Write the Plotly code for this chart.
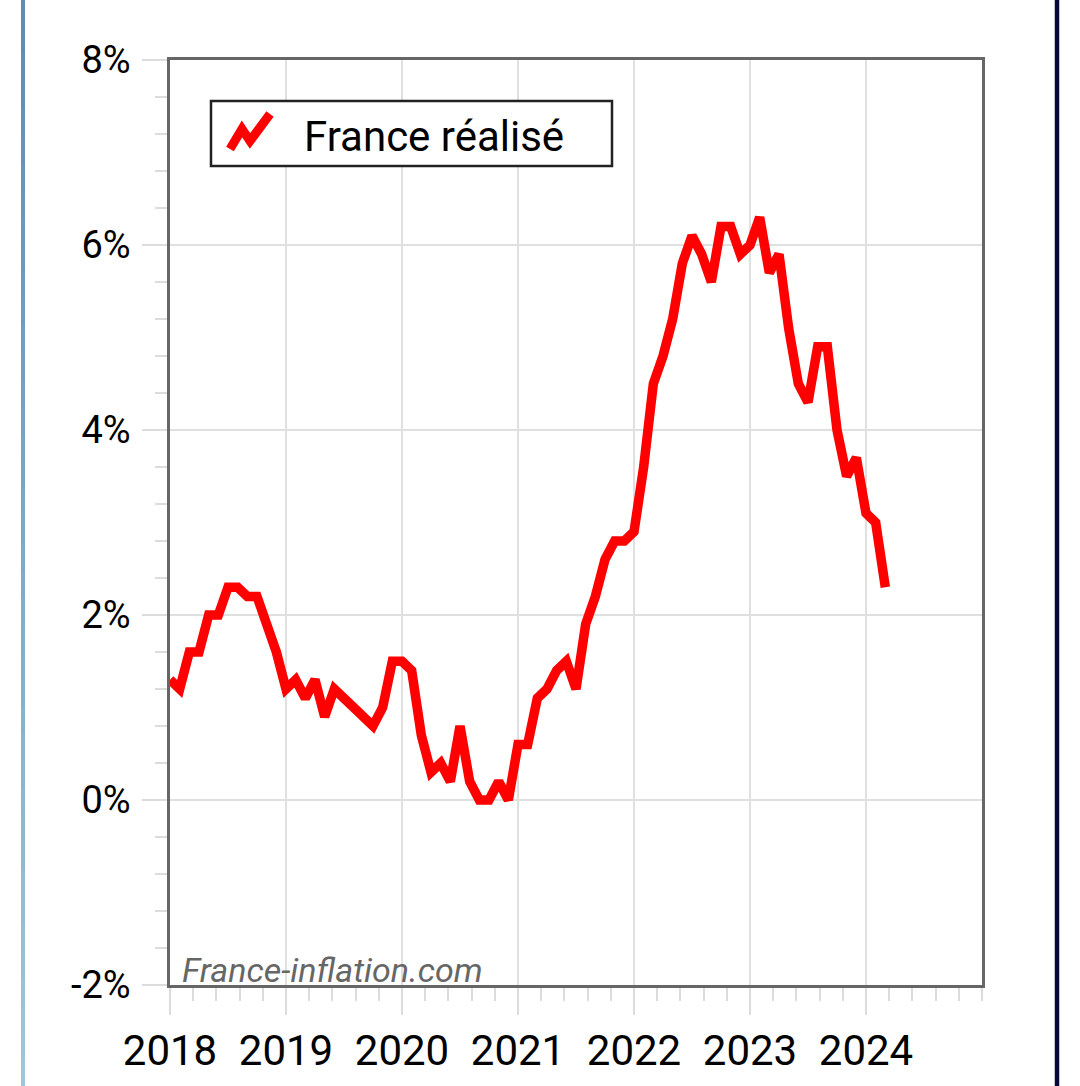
import plotly.graph_objects as go

# ---- data -------------------------------------------------------------
years = [2018]*12 + [2019]*12 + [2020]*12 + [2021]*12 + [2022]*12 + [2023]*12 + [2024]*3
months = list(range(1, 13))*6 + [1, 2, 3]
inflation = [
    1.3, 1.2, 1.6, 1.6, 2.0, 2.0, 2.3, 2.3, 2.2, 2.2, 1.9, 1.6,   # 2018
    1.2, 1.3, 1.1, 1.3, 0.9, 1.2, 1.1, 1.0, 0.9, 0.8, 1.0, 1.5,   # 2019
    1.5, 1.4, 0.7, 0.3, 0.4, 0.2, 0.8, 0.2, 0.0, 0.0, 0.2, 0.0,   # 2020
    0.6, 0.6, 1.1, 1.2, 1.4, 1.5, 1.2, 1.9, 2.2, 2.6, 2.8, 2.8,   # 2021
    2.9, 3.6, 4.5, 4.8, 5.2, 5.8, 6.1, 5.9, 5.6, 6.2, 6.2, 5.9,   # 2022
    6.0, 6.3, 5.7, 5.9, 5.1, 4.5, 4.3, 4.9, 4.9, 4.0, 3.5, 3.7,   # 2023
    3.1, 3.0, 2.3,                                                # 2024
]
series_name = "France réalisé"
x_tick_vals = [2018, 2019, 2020, 2021, 2022, 2023, 2024]
x_tick_text = ["2018", "2019", "2020", "2021", "2022", "2023", "2024"]
y_tick_vals = [-2, 0, 2, 4, 6, 8]
y_tick_text = ["-2%", "0%", "2%", "4%", "6%", "8%"]
watermark = "France-inflation.com"

# ---- layout geometry (pixels) -----------------------------------------
W, H = 1080, 1086
L, R, T, B = 170, 98, 60, 101
PW, PH = W - L - R, H - T - B

def px(xp):
    return (xp - L) / PW

def py(yp):
    return (H - B - yp) / PH

x_pos = [y + (m - 1) / 12 for y, m in zip(years, months)]

fig = go.Figure()
fig.add_trace(go.Scatter(
    x=x_pos, y=inflation, mode="lines", name=series_name,
    line=dict(color="#ff0000", width=9.5), showlegend=False,
))

FONT = "Roboto"
fig.update_layout(
    width=W, height=H,
    margin=dict(l=L, r=R, t=T, b=B, pad=0, autoexpand=False),
    paper_bgcolor="white", plot_bgcolor="white",
    font=dict(family=FONT, color="black"),
    xaxis=dict(
        range=[2018, 2025], tickmode="array", tickvals=x_tick_vals, ticktext=x_tick_text,
        tickfont=dict(size=42, family=FONT, color="black"),
        ticks="outside", ticklen=27, tickwidth=2, tickcolor="#dcdcdc",
        ticklabelstandoff=0,
        showgrid=True, gridcolor="#e0e0e0", gridwidth=2, zeroline=False,
        showline=True, linecolor="#666666", linewidth=2.5, mirror=True,
        minor=dict(tickmode="linear", tick0=2018, dtick=0.2, ticks="outside",
                   ticklen=13, tickwidth=2, tickcolor="#dcdcdc", showgrid=False),
    ),
    yaxis=dict(
        range=[-2, 8], tickmode="array", tickvals=y_tick_vals, ticktext=y_tick_text,
        tickfont=dict(size=38, family=FONT, color="black"),
        ticks="outside", ticklen=25, tickwidth=2, tickcolor="#dcdcdc",
        ticklabelstandoff=4,
        showgrid=True, gridcolor="#e0e0e0", gridwidth=2, zeroline=False,
        showline=True, linecolor="#666666", linewidth=2.5, mirror=True,
        minor=dict(tickmode="linear", tick0=-2, dtick=0.4, ticks="outside",
                   ticklen=12, tickwidth=2, tickcolor="#dcdcdc", showgrid=False),
    ),
)

shapes = []
# legend box
shapes.append(dict(type="rect", xref="paper", yref="paper",
                   x0=px(211), x1=px(612), y0=py(166), y1=py(101),
                   line=dict(color="#222222", width=2.5), fillcolor="white", layer="above"))
# legend zigzag icon
pts = [(230, 149), (242, 129), (250, 141), (270, 114)]
path = "M " + " L ".join(f"{px(a):.5f},{py(b):.5f}" for a, b in pts)
shapes.append(dict(type="path", xref="paper", yref="paper", path=path,
                   line=dict(color="#ff0000", width=9), layer="above"))

# outer frame lines (left gradient blue, right navy)
c0 = (0x5b, 0x8c, 0xb6)
c1 = (0x9c, 0xc8, 0xdc)
nseg = 40
for i in range(nseg):
    t = (i + 0.5) / nseg
    col = "rgb({},{},{})".format(*[round(a + (b - a) * t) for a, b in zip(c0, c1)])
    y0p = H * i / nseg
    y1p = H * (i + 1) / nseg + 1
    shapes.append(dict(type="line", xref="paper", yref="paper",
                       x0=px(23), x1=px(23), y0=py(y0p), y1=py(min(y1p, H)),
                       line=dict(color=col, width=4), layer="above"))
shapes.append(dict(type="line", xref="paper", yref="paper",
                   x0=px(1057), x1=px(1057), y0=py(0), y1=py(H),
                   line=dict(color="#08083d", width=4.5), layer="above"))

fig.update_layout(shapes=shapes)

fig.add_annotation(text=series_name, xref="paper", yref="paper",
                   x=px(302), y=py(136), xanchor="left", yanchor="middle",
                   showarrow=False, font=dict(family=FONT, size=42, color="black"))
fig.add_annotation(text="<i>" + watermark + "</i>", xref="paper", yref="paper",
                   x=px(180), y=0, xanchor="left", yanchor="bottom", yshift=-7,
                   showarrow=False, font=dict(family=FONT, size=34, color="#666666"))

fig.write_html("out.html", config={"displayModeBar": False},
               post_script="document.body.style.margin='0';document.body.style.overflow='hidden';")
